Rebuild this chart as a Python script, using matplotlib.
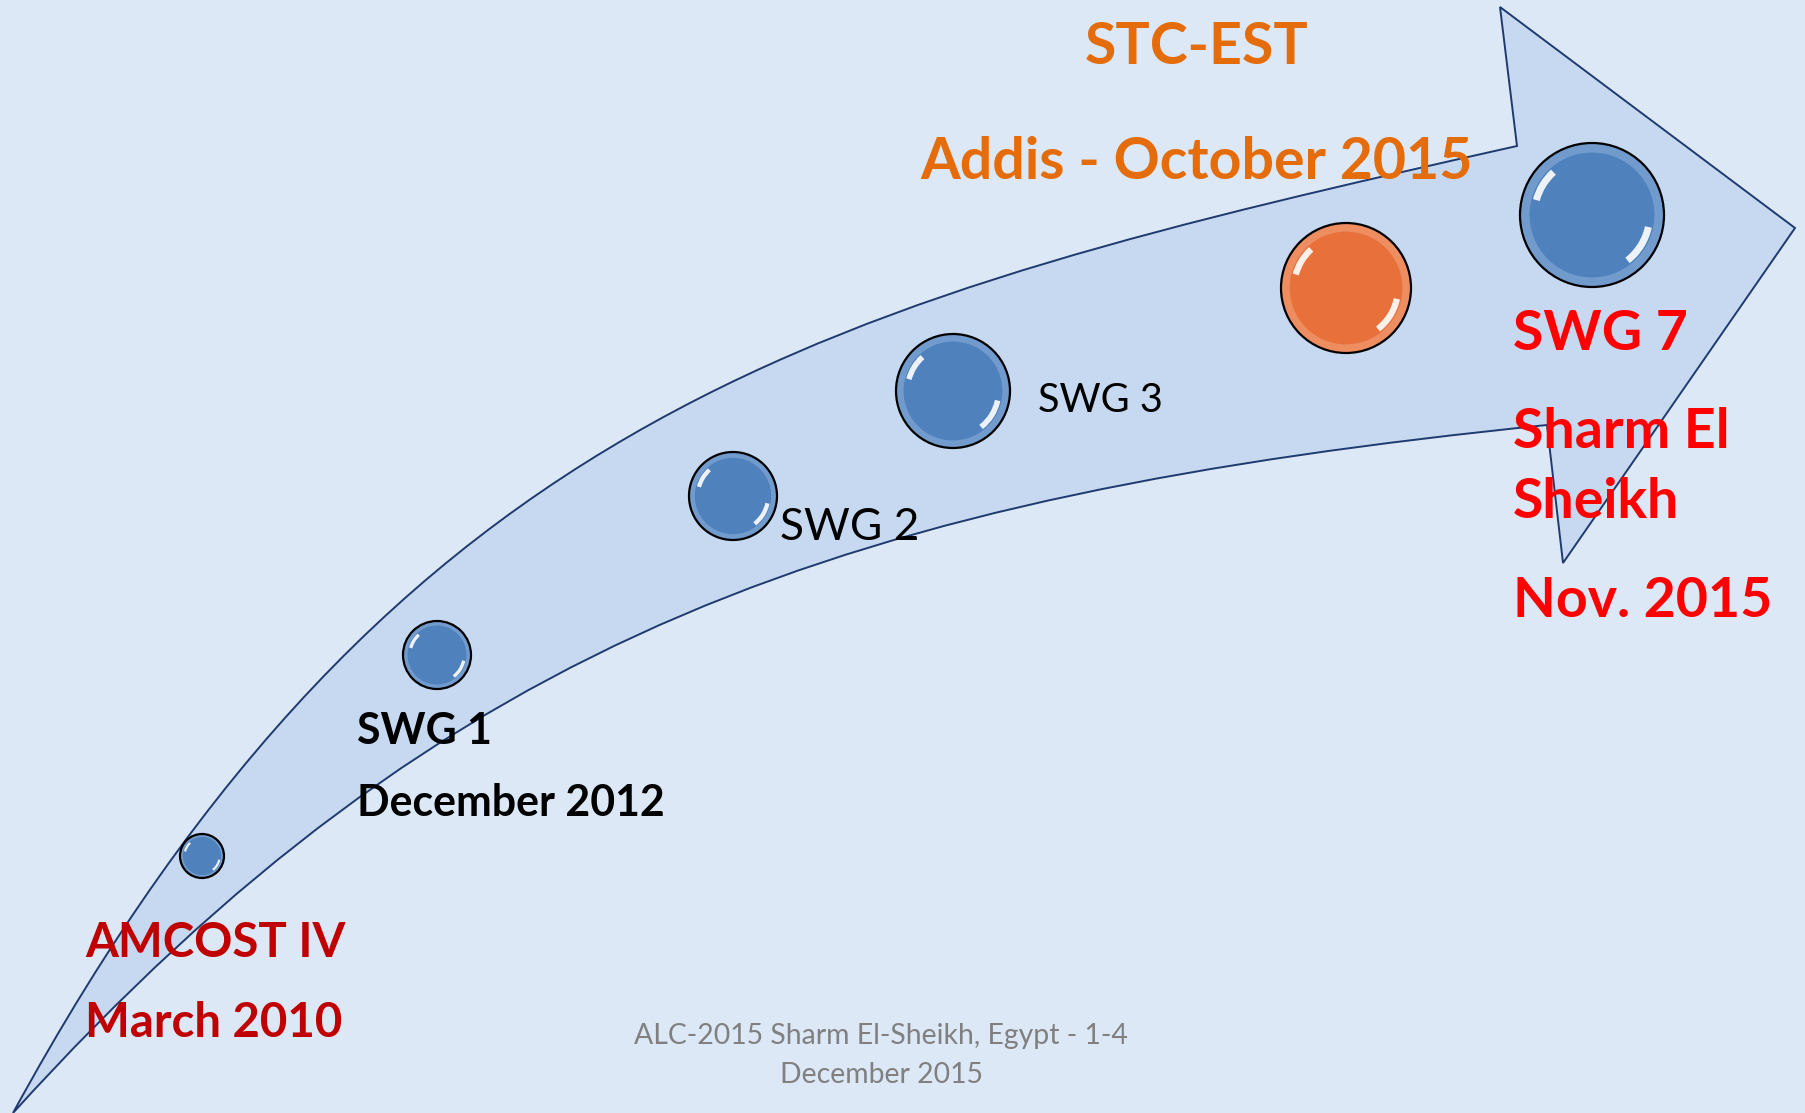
import matplotlib
matplotlib.use("Agg")
import matplotlib.pyplot as plt
from matplotlib.path import Path
from matplotlib.patches import PathPatch, Circle, Arc

W, H = 1805, 1113

# timeline labels
top_labels = ["STC-EST", "Addis - October 2015"]
swg7_labels = ["SWG 7", "Sharm El", "Sheikh", "Nov. 2015"]
swg1_labels = ["SWG 1", "December 2012"]
amcost_labels = ["AMCOST IV", "March 2010"]
footer_labels = ["ALC-2015 Sharm El-Sheikh, Egypt - 1-4", "December 2015"]

# milestone bubbles (pixel space, y down)
bubble_x = [202, 437, 733, 953, 1346, 1592]
bubble_y = [856, 655, 496, 391, 288, 215]
bubble_r = [22, 34, 44, 57, 65, 72]
bubble_col = ["#4f81bd", "#4f81bd", "#4f81bd", "#4f81bd", "#e8703a", "#4f81bd"]
bubble_rim = ["#8fb2dc", "#8fb2dc", "#8fb2dc", "#8fb2dc", "#f4a57e", "#8fb2dc"]

# arrow outline
tail = (13, 1113)
upper_ctrl = [(397, 409), (834, 299), (1517, 146)]
head_pts = [(1500, 7), (1795, 228), (1563, 563), (1547, 425)]
lower_ctrl = [(850, 496), (449, 632), tail]

fig = plt.figure(figsize=(W / 100, H / 100), dpi=100)
fig.patch.set_facecolor("#dce8f5")
ax = fig.add_axes([0, 0, 1, 1])
ax.set_xlim(0, W)
ax.set_ylim(H, 0)
ax.axis("off")

# arrow body
verts = [tail] + upper_ctrl + head_pts + lower_ctrl
codes = ([Path.MOVETO] + [Path.CURVE4] * 3 + [Path.LINETO] * 4
         + [Path.CURVE4] * 3)
arrow = PathPatch(Path(verts + [tail], codes + [Path.CLOSEPOLY]),
                  facecolor="#c6d9f0", edgecolor="#1f3a6e", lw=1.4,
                  joinstyle="miter", zorder=1)
ax.add_patch(arrow)

# glossy bubbles
for x, y, r, c, rc in zip(bubble_x, bubble_y, bubble_r, bubble_col, bubble_rim):
    ax.add_patch(Circle((x, y), r, facecolor=c, edgecolor="none", zorder=2))
    ax.add_patch(Circle((x, y), r * 0.93, facecolor="none", edgecolor=rc,
                        lw=r * 0.09, alpha=0.55, zorder=3))
    ax.add_patch(Circle((x, y), r * 0.85, facecolor=c, edgecolor="none",
                        alpha=0.6, zorder=3))
    ax.add_patch(Circle((x, y), r, facecolor="none", edgecolor="black",
                        lw=1.6, zorder=5))
    # y axis points down, so data angles are mirrored
    ax.add_patch(Arc((x, y), 2 * r * 0.8, 2 * r * 0.8, theta1=195, theta2=228,
                     color="white", lw=max(1.5, r * 0.07), alpha=0.9, zorder=4))
    ax.add_patch(Arc((x, y), 2 * r * 0.8, 2 * r * 0.8, theta1=12, theta2=52,
                     color="white", lw=max(1.5, r * 0.07), alpha=0.9, zorder=4))

fig.canvas.draw()
renderer = fig.canvas.get_renderer()


def block(lines, xs, baselines, width, color, weight="bold", ha="left"):
    # scale font so the widest line matches the target width in pixels
    probe = [ax.text(0, 0, s, fontsize=40, family="Lato", fontweight=weight)
             for s in lines]
    wmax = max(t.get_window_extent(renderer).width for t in probe)
    for t in probe:
        t.remove()
    size = 40 * width / wmax
    for s, x, b in zip(lines, xs, baselines):
        ax.text(x, b, s, fontsize=size, family="Lato", fontweight=weight,
                color=color, ha=ha, va="baseline", zorder=6)


block(top_labels, [1197, 1197], [64, 179], 552, "#e46c0a", ha="center")
block(swg7_labels, [1513] * 4, [350, 448, 518, 617], 259, "#ff0000")
block(["SWG 3"], [1038], [412], 125, "black", weight="normal")
block(["SWG 2"], [780], [540], 139, "black", weight="normal")
block(swg1_labels, [357, 357], [744, 816], 308, "black")
block(amcost_labels, [85, 85], [957, 1037], 260, "#c00000")
block(footer_labels, [881, 881], [1044, 1083], 494, "#808080",
      weight="normal", ha="center")

fig.savefig("out.png", dpi=100, facecolor=fig.get_facecolor())
